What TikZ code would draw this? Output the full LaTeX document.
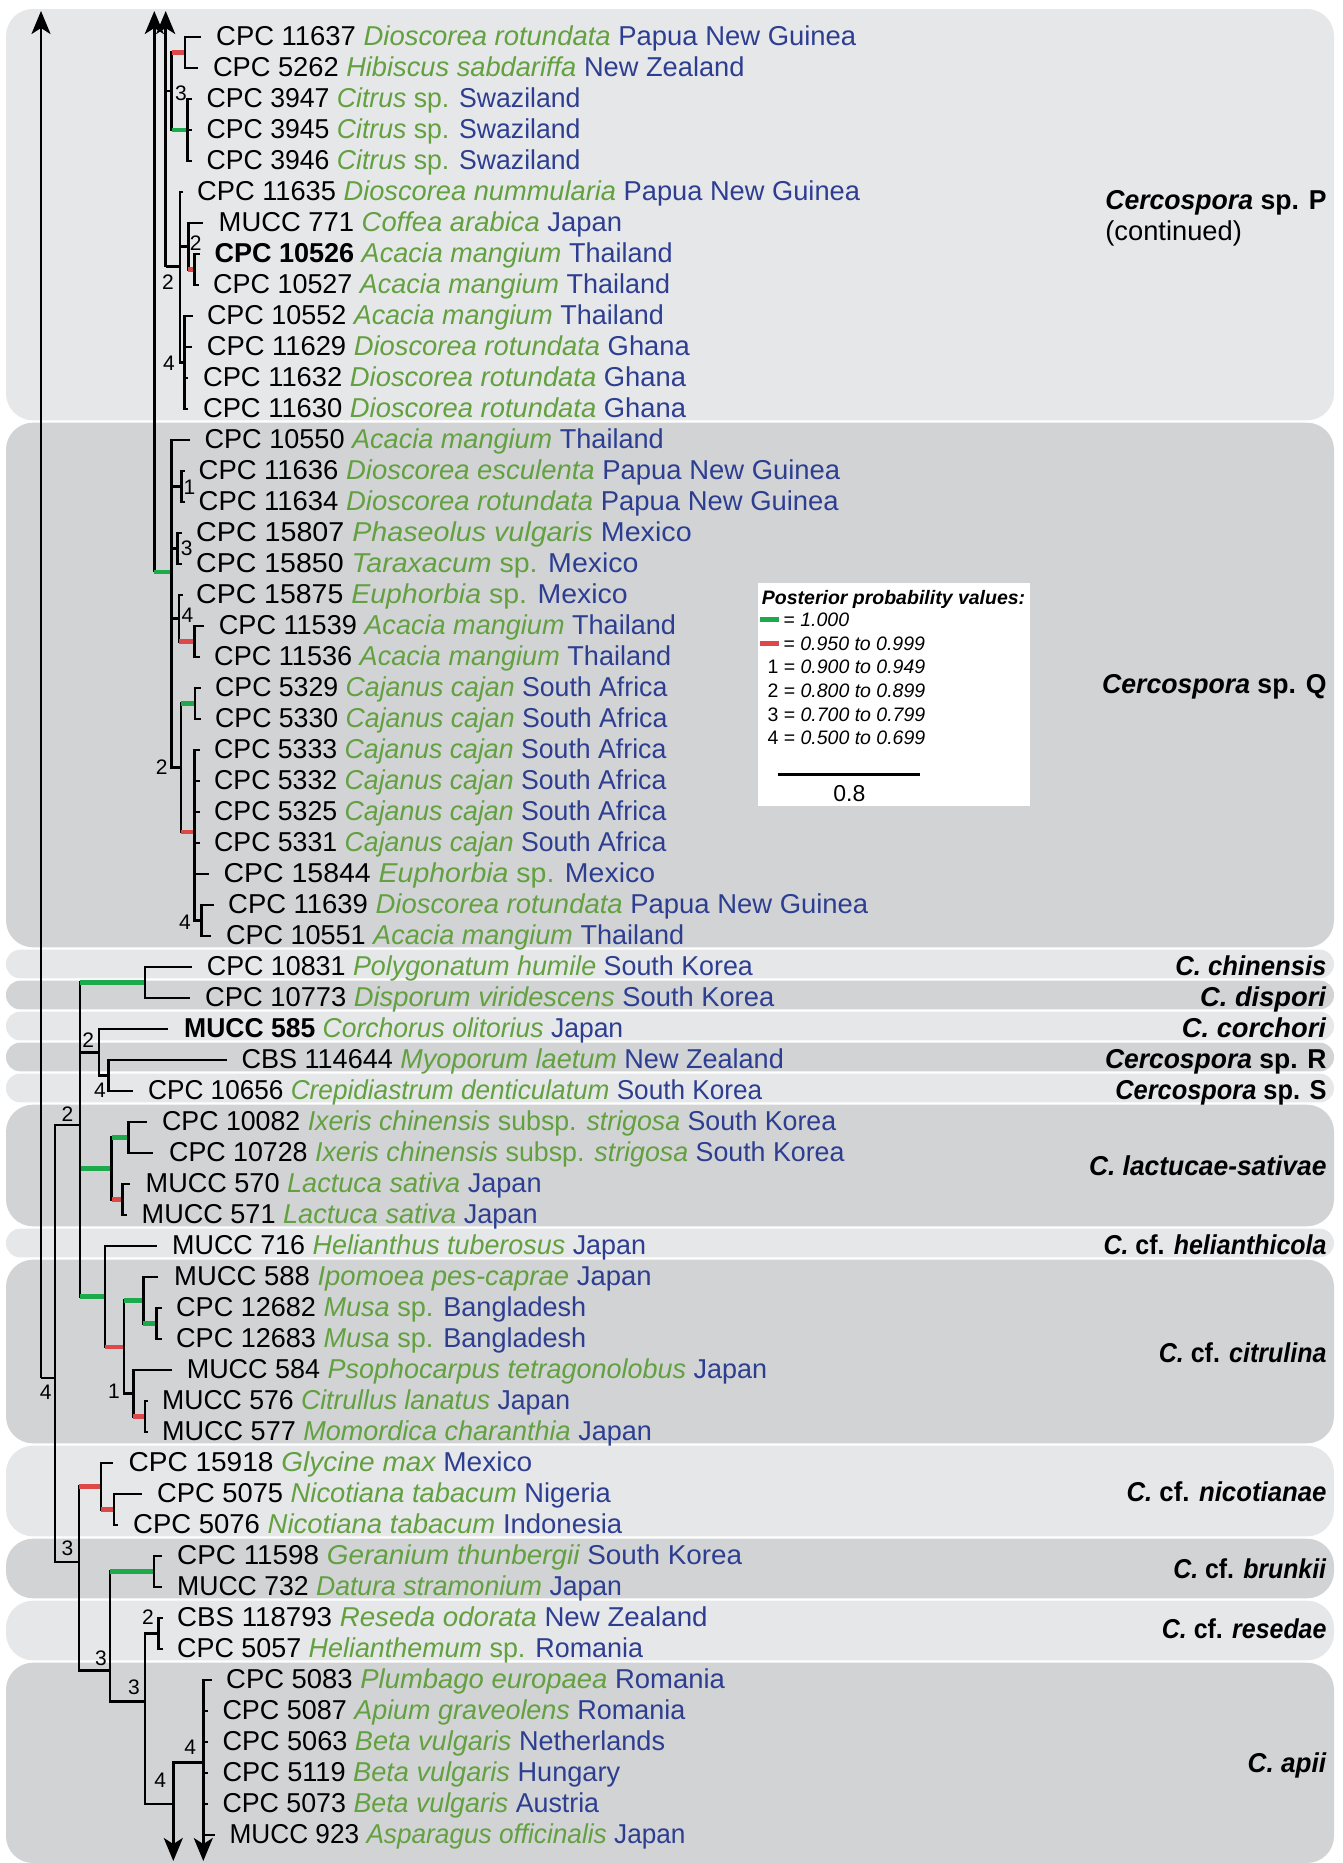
\documentclass[tikz,border=0pt]{standalone}
\usepackage{fontspec}
\setmainfont{Liberation Sans}
\usetikzlibrary{arrows.meta}
\definecolor{bgL}{RGB}{230,231,232}
\definecolor{bgD}{RGB}{209,211,212}
\definecolor{host}{RGB}{98,160,64}
\definecolor{ctry}{RGB}{45,62,145}
\definecolor{ppg}{RGB}{28,170,76}
\definecolor{ppr}{RGB}{222,72,72}
\tikzset{
  br/.style={line width=2.7pt},
  gbr/.style={line width=4.5pt, ppg},
  rbr/.style={line width=4.5pt, ppr},
  arr/.style={br, -{Stealth[length=23pt,width=19pt,inset=6pt]}},
  lab/.style={anchor=base west, inner sep=0, font=\fontsize{27.3}{32}\selectfont},
  rlab/.style={anchor=base east, inner sep=0, font=\bfseries\fontsize{27.3}{32}\selectfont},
  ppl/.style={inner sep=0, font=\fontsize{21}{24}\selectfont},
  lg/.style={anchor=base west, inner sep=0, font=\fontsize{19.5}{23}\selectfont},
  lgb/.style={anchor=base west, inner sep=0, font=\bfseries\itshape\fontsize{19.5}{23}\selectfont},
}
% #1 name, #2 parent, #3 y, #4 tip x, #5 label x, #6 id, #7 host, #8 country, #9 width factor
\newcommand\tipleaf[9]{%
  \coordinate (#1) at (#4,#3);
  \draw[br] (#2) |- (#1);
  \node[lab] (#1t) at (#5,#3+8.3) {\scalebox{#9}[1]{#6 \textcolor{host}{\itshape #7} \textcolor{ctry}{#8}}};
}
\newcommand\innode[5]{%
  \coordinate (#1) at (#3,#4);
  \draw[br] (#2) |- (#1);
  \draw[#5] (#2 |- #1) -- (#1);
}
\newcommand\ppv[3]{\node[ppl] (#1) at (#2) {#3};}
% clade name: #1 name, #2 baseline y, #3 width factor, #4 text
\newcommand\cladelab[4]{\node[rlab] (#1) at (1326.7,#2) {\scalebox{#3}[1]{#4}};}
\begin{document}
\begin{tikzpicture}[x=1pt,y=-1pt]
\useasboundingbox (0,0) rectangle (1343,1863);
% background bands
\fill[bgL,rounded corners=27pt] (6,9) rectangle (1334,420.3);
\fill[bgD,rounded corners=27pt] (6,422.7) rectangle (1334,947.3);
\fill[bgL,rounded corners=14pt] (6,949.7) rectangle (1334,978.3);
\fill[bgD,rounded corners=14pt] (6,980.7) rectangle (1334,1009.3);
\fill[bgL,rounded corners=14pt] (6,1011.7) rectangle (1334,1040.3);
\fill[bgD,rounded corners=14pt] (6,1042.7) rectangle (1334,1071.3);
\fill[bgL,rounded corners=14pt] (6,1073.7) rectangle (1334,1102.3);
\fill[bgD,rounded corners=27pt] (6,1104.7) rectangle (1334,1226.3);
\fill[bgL,rounded corners=14pt] (6,1228.7) rectangle (1334,1257.3);
\fill[bgD,rounded corners=27pt] (6,1259.7) rectangle (1334,1443.3);
\fill[bgL,rounded corners=27pt] (6,1445.7) rectangle (1334,1536.3);
\fill[bgD,rounded corners=27pt] (6,1538.7) rectangle (1334,1598.3);
\fill[bgL,rounded corners=27pt] (6,1600.7) rectangle (1334,1660.3);
\fill[bgD,rounded corners=27pt] (6,1662.7) rectangle (1334,1863);

% legend
\node[fill=white, inner sep=0, anchor=north west, minimum width=272.7pt, minimum height=223.4pt] (legbox) at (757.3,582.3) {};
\node[lgb] (lgt) at (761.7,604.7) {Posterior probability values:};
\fill[ppg] (760,617) rectangle (779.3,622.3);
\node[lg] (lg1) at (783.3,626.3) {= \textit{1.000}};
\fill[ppr] (760,641) rectangle (779.3,646.3);
\node[lg] (lg2) at (783.3,650) {= \textit{0.950 to 0.999}};
\node[lg] (lg3) at (767.3,673.7) {1 = \textit{0.900 to 0.949}};
\node[lg] (lg4) at (767.3,697.4) {2 = \textit{0.800 to 0.899}};
\node[lg] (lg5) at (767.3,721.1) {3 = \textit{0.700 to 0.799}};
\node[lg] (lg6) at (767.3,744.8) {4 = \textit{0.500 to 0.699}};
\coordinate (sb1) at (778.3,774.3);
\coordinate (sb2) at (920,774.3);
\draw[line width=2.5pt] (sb1) -- (sb2);
\node[anchor=base, inner sep=0, font=\fontsize{23}{27}\selectfont] (sbl) at (849.3,801.5) {0.8};

% ---- root part
\coordinate (R0) at (41,1378);
\coordinate (R0top) at (41,11);
\draw[arr] (R0) -- (R0top);
\coordinate (A) at (55,1378);
\draw[br] (R0) -- (A);
\innode{B}{A}{80}{1125}{br}
\innode{C}{A}{79}{1562}{br}

\innode{nCD}{B}{145}{982.5}{gbr}
\tipleaf{r31}{nCD}{967}{191.7}{206.7}{CPC 10831}{Polygonatum humile}{South Korea}{0.983}
\tipleaf{r32}{nCD}{998}{190}{205}{CPC 10773}{Disporum viridescens}{South Korea}{1}
\innode{nCO}{B}{99}{1052.3}{br}
\tipleaf{r33}{nCO}{1029}{168.3}{184}{\textbf{MUCC 585}}{Corchorus olitorius}{Japan}{0.971}
\innode{nRS}{nCO}{108.3}{1075.5}{br}
\tipleaf{r34}{nRS}{1060}{226.7}{241.3}{CBS 114644}{Myoporum laetum}{New Zealand}{0.991}
\tipleaf{r35}{nRS}{1091}{132.7}{148}{CPC 10656}{Crepidiastrum denticulatum}{South Korea}{0.959}
\innode{nLA}{B}{111.7}{1168.5}{gbr}
\innode{nLA1}{nLA}{128.3}{1137.5}{gbr}
\tipleaf{r36}{nLA1}{1122}{146.7}{162}{CPC 10082}{Ixeris chinensis \textup{subsp.} strigosa}{South Korea}{0.979}
\tipleaf{r37}{nLA1}{1153}{153.3}{169}{CPC 10728}{Ixeris chinensis \textup{subsp.} strigosa}{South Korea}{0.981}
\innode{nLA2}{nLA}{122.7}{1199.5}{rbr}
\tipleaf{r38}{nLA2}{1184}{130}{145.5}{MUCC 570}{Lactuca sativa}{Japan}{0.992}
\tipleaf{r39}{nLA2}{1215}{126.7}{141.5}{MUCC 571}{Lactuca sativa}{Japan}{0.992}
\innode{nCI}{B}{105}{1296.4}{gbr}
\tipleaf{r40}{nCI}{1246}{156.7}{172}{MUCC 716}{Helianthus tuberosus}{Japan}{0.985}
\innode{nCI1}{nCI}{124}{1346.75}{rbr}
\innode{nCI2}{nCI1}{143.3}{1300.25}{gbr}
\tipleaf{r41}{nCI2}{1277}{158.3}{174}{MUCC 588}{Ipomoea pes-caprae}{Japan}{1.005}
\innode{nCI3}{nCI2}{156.7}{1323.5}{gbr}
\tipleaf{r42}{nCI3}{1308}{161.5}{176}{CPC 12682}{Musa \textup{sp.}}{Bangladesh}{0.991}
\tipleaf{r43}{nCI3}{1339}{161.5}{176}{CPC 12683}{Musa \textup{sp.}}{Bangladesh}{0.991}
\innode{nCI4}{nCI1}{133.3}{1393.25}{br}
\tipleaf{r44}{nCI4}{1370}{171.7}{186.6}{MUCC 584}{Psophocarpus tetragonolobus}{Japan}{0.988}
\innode{nCI5}{nCI4}{145}{1416.5}{rbr}
\tipleaf{r45}{nCI5}{1401}{148}{162}{MUCC 576}{Citrullus lanatus}{Japan}{0.974}
\tipleaf{r46}{nCI5}{1432}{148}{162}{MUCC 577}{Momordica charanthia}{Japan}{0.99}

\innode{nNI}{C}{101}{1486.25}{rbr}
\tipleaf{r47}{nNI}{1463}{113.3}{128.4}{CPC 15918}{Glycine max}{Mexico}{1.027}
\innode{nNI2}{nNI}{114}{1509.5}{rbr}
\tipleaf{r48}{nNI2}{1494}{141.7}{157}{CPC 5075}{Nicotiana tabacum}{Nigeria}{1}
\tipleaf{r49}{nNI2}{1525}{118}{133}{CPC 5076}{Nicotiana tabacum}{Indonesia}{1.007}
\innode{nD}{C}{110}{1670.7}{br}
\innode{nBR}{nD}{154}{1571.5}{gbr}
\tipleaf{r50}{nBR}{1556}{162}{177}{CPC 11598}{Geranium thunbergii}{South Korea}{1.021}
\tipleaf{r51}{nBR}{1587}{162}{177}{MUCC 732}{Datura stramonium}{Japan}{0.974}
\innode{nE}{nD}{145}{1701.7}{br}
\innode{nRE}{nE}{158.3}{1633.5}{br}
\tipleaf{r52}{nRE}{1618}{162.5}{177}{CBS 118793}{Reseda odorata}{New Zealand}{1.014}
\tipleaf{r53}{nRE}{1649}{162.5}{177}{CPC 5057}{Helianthemum \textup{sp.}}{Romania}{0.985}
\innode{nF}{nE}{173.3}{1804}{br}
\coordinate (nFbot) at (173.3,1861);
\draw[arr] (nF) -- (nFbot);
\innode{nG}{nF}{203.3}{1762.3}{br}
\coordinate (nGbot) at (203.3,1861);
\draw[arr] (nG) -- (nGbot);
\tipleaf{r54}{nG}{1680}{211.7}{226}{CPC 5083}{Plumbago europaea}{Romania}{1.005}
\tipleaf{r55}{nG}{1711}{207.5}{222.3}{CPC 5087}{Apium graveolens}{Romania}{0.987}
\tipleaf{r56}{nG}{1742}{207.5}{222.3}{CPC 5063}{Beta vulgaris}{Netherlands}{0.992}
\tipleaf{r57}{nG}{1773}{207.5}{222.3}{CPC 5119}{Beta vulgaris}{Hungary}{0.994}
\tipleaf{r58}{nG}{1804}{207.5}{222.3}{CPC 5073}{Beta vulgaris}{Austria}{0.981}
\tipleaf{r59}{nG}{1835}{215}{229.4}{MUCC 923}{Asparagus officinalis}{Japan}{0.96}

% ---- clade P
\coordinate (nH) at (165.7,266.7);
\coordinate (nHtop) at (165.7,11);
\draw[arr] (nH) -- (nHtop);
\innode{nI}{nH}{171.7}{91}{br}
\innode{nI1}{nI}{185}{52.5}{rbr}
\tipleaf{r1}{nI1}{37}{201}{216}{CPC 11637}{Dioscorea rotundata}{Papua New Guinea}{1.005}
\tipleaf{r2}{nI1}{68}{198.3}{212.8}{CPC 5262}{Hibiscus sabdariffa}{New Zealand}{0.998}
\innode{nI2}{nI}{187.7}{130}{gbr}
\tipleaf{r3}{nI2}{99}{191.7}{206.5}{CPC 3947}{Citrus \textup{sp.}}{Swaziland}{0.975}
\tipleaf{r4}{nI2}{130}{191.7}{206.5}{CPC 3945}{Citrus \textup{sp.}}{Swaziland}{0.975}
\tipleaf{r5}{nI2}{161}{191.7}{206.5}{CPC 3946}{Citrus \textup{sp.}}{Swaziland}{0.975}
\innode{nJ}{nH}{180}{266.7}{br}
\tipleaf{r6}{nJ}{192}{183}{197}{CPC 11635}{Dioscorea nummularia}{Papua New Guinea}{0.998}
\innode{nK}{nJ}{188.3}{246.3}{br}
\tipleaf{r7}{nK}{223}{203.3}{218.5}{MUCC 771}{Coffea arabica}{Japan}{1.003}
\innode{nK2}{nK}{194.3}{269.5}{rbr}
\tipleaf{r8}{nK2}{254}{199.5}{214.3}{\textbf{CPC 10526}}{Acacia mangium}{Thailand}{0.99}
\tipleaf{r9}{nK2}{285}{198.5}{213}{CPC 10527}{Acacia mangium}{Thailand}{0.987}
\innode{nL}{nJ}{184.3}{362.5}{br}
\tipleaf{r10}{nL}{316}{192.5}{206.8}{CPC 10552}{Acacia mangium}{Thailand}{0.987}
\tipleaf{r11}{nL}{347}{191.5}{206.6}{CPC 11629}{Dioscorea rotundata}{Ghana}{1.002}
\tipleaf{r12}{nL}{378}{188}{202.8}{CPC 11632}{Dioscorea rotundata}{Ghana}{1.002}
\tipleaf{r13}{nL}{409}{188}{202.8}{CPC 11630}{Dioscorea rotundata}{Ghana}{1.002}

% ---- clade Q
\coordinate (nQ0) at (154.3,572);
\coordinate (nQ0top) at (154.3,11);
\draw[arr] (nQ0) -- (nQ0top);
\innode{nM}{nQ0}{171.7}{572}{gbr}
\tipleaf{r14}{nM}{440}{190}{204.4}{CPC 10550}{Acacia mangium}{Thailand}{0.992}
\innode{nM1}{nM}{181.7}{486.5}{br}
\tipleaf{r15}{nM1}{471}{184.5}{198.5}{CPC 11636}{Dioscorea esculenta}{Papua New Guinea}{1.005}
\tipleaf{r16}{nM1}{502}{184.5}{198.5}{CPC 11634}{Dioscorea rotundata}{Papua New Guinea}{1.005}
\innode{nM2}{nM}{177.7}{548.5}{br}
\tipleaf{r17}{nM2}{533}{181.5}{196}{CPC 15807}{Phaseolus vulgaris}{Mexico}{1.05}
\tipleaf{r18}{nM2}{564}{181.5}{196}{CPC 15850}{Taraxacum \textup{sp.}}{Mexico}{1.045}
\innode{nM3}{nM}{179}{618.5}{br}
\tipleaf{r19}{nM3}{595}{183}{196}{CPC 15875}{Euphorbia \textup{sp.}}{Mexico}{1.043}
\innode{nM4}{nM3}{194.3}{641.5}{rbr}
\tipleaf{r20}{nM4}{626}{204}{218.7}{CPC 11539}{Acacia mangium}{Thailand}{0.992}
\tipleaf{r21}{nM4}{657}{199.5}{214}{CPC 11536}{Acacia mangium}{Thailand}{0.992}
\innode{nN}{nM}{181}{767.2}{br}
\innode{nN1}{nN}{195}{703.5}{gbr}
\tipleaf{r22}{nN1}{688}{200.5}{215}{CPC 5329}{Cajanus cajan}{South Africa}{0.977}
\tipleaf{r23}{nN1}{719}{200.5}{215}{CPC 5330}{Cajanus cajan}{South Africa}{0.977}
\innode{nO}{nN}{194.3}{832}{rbr}
\tipleaf{r24}{nO}{750}{199.5}{214}{CPC 5333}{Cajanus cajan}{South Africa}{0.977}
\tipleaf{r25}{nO}{781}{199.5}{214}{CPC 5332}{Cajanus cajan}{South Africa}{0.977}
\tipleaf{r26}{nO}{812}{199.5}{214}{CPC 5325}{Cajanus cajan}{South Africa}{0.977}
\tipleaf{r27}{nO}{843}{199.5}{214}{CPC 5331}{Cajanus cajan}{South Africa}{0.977}
\tipleaf{r28}{nO}{874}{209}{223.4}{CPC 15844}{Euphorbia \textup{sp.}}{Mexico}{1.043}
\innode{nO1}{nO}{201.7}{920.5}{br}
\tipleaf{r29}{nO1}{905}{213.5}{228}{CPC 11639}{Dioscorea rotundata}{Papua New Guinea}{1.005}
\tipleaf{r30}{nO1}{936}{211.3}{225.8}{CPC 10551}{Acacia mangium}{Thailand}{0.99}

% ---- support values
\ppv{s1}{181,93}{3}
\ppv{s2}{195.8,243.3}{2}
\ppv{s3}{168,281.7}{2}
\ppv{s4}{169,363.3}{4}
\ppv{s5}{189.5,487.7}{1}
\ppv{s6}{186.7,548}{3}
\ppv{s7}{187.5,615.7}{4}
\ppv{s8}{161.7,767.2}{2}
\ppv{s9}{185,922.6}{4}
\ppv{s10}{88.3,1040}{2}
\ppv{s11}{100,1090}{4}
\ppv{s12}{67.5,1114.2}{2}
\ppv{s13}{114,1391.7}{1}
\ppv{s14}{45.8,1392}{4}
\ppv{s15}{67.5,1548}{3}
\ppv{s16}{101,1658}{3}
\ppv{s17}{134,1687}{3}
\ppv{s18}{148,1617.5}{2}
\ppv{s19}{160.3,1780}{4}
\ppv{s20}{190.3,1747}{4}

% ---- clade names
\cladelab{lP}{209.5}{0.974}{\textit{Cercospora} sp. P}
\node[anchor=base west, inner sep=0, font=\fontsize{27.3}{32}\selectfont] (lPc) at ([yshift=-31pt]lP.base west) {(continued)};
\cladelab{lQ}{693.2}{0.975}{\textit{Cercospora} sp. Q}
\cladelab{l31}{975.3}{0.94}{\textit{C. chinensis}}
\cladelab{l32}{1006.3}{1}{\textit{C. dispori}}
\cladelab{l33}{1037.3}{1}{\textit{C. corchori}}
\cladelab{l34}{1068.3}{0.969}{\textit{Cercospora} sp. R}
\cladelab{l35}{1099.3}{0.93}{\textit{Cercospora} sp. S}
\cladelab{lLA}{1175.8}{0.966}{\textit{C. lactucae-sativae}}
\cladelab{lHE}{1254.3}{0.915}{\textit{C.} cf. \textit{helianthicola}}
\cladelab{lCI}{1362.3}{0.916}{\textit{C.} cf. \textit{citrulina}}
\cladelab{lNI}{1501.4}{0.944}{\textit{C.} cf. \textit{nicotianae}}
\cladelab{lBR}{1578.6}{0.91}{\textit{C.} cf. \textit{brunkii}}
\cladelab{lRE}{1638}{0.914}{\textit{C.} cf. \textit{resedae}}
\cladelab{lAP}{1772.3}{0.957}{\textit{C. apii}}
\end{tikzpicture}
\end{document}
